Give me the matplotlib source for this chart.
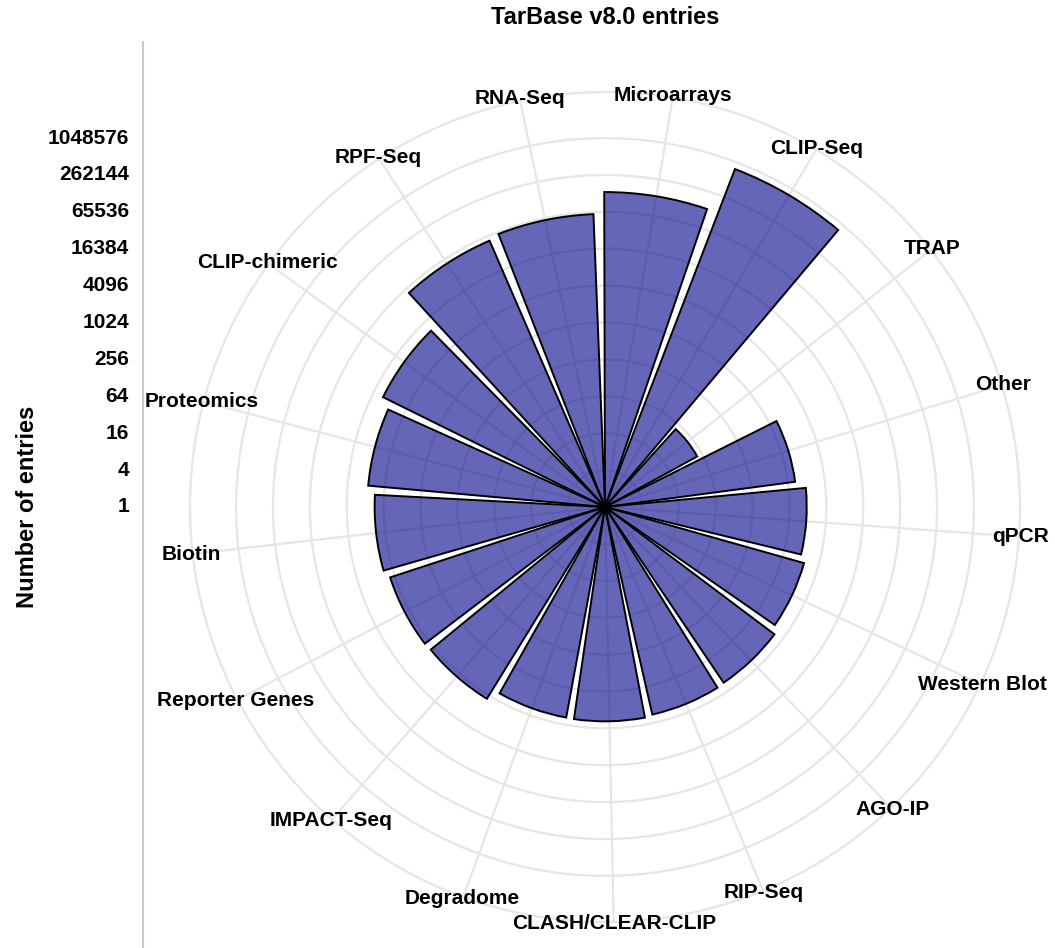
import matplotlib
matplotlib.use("agg")
import matplotlib.pyplot as plt
import numpy as np
from matplotlib.lines import Line2D

plt.rcParams["font.family"] = ["Liberation Sans", "DejaVu Sans"]
plt.rcParams["font.weight"] = "bold"

# Entries per experimental method (TarBase v8.0)
methods = [
    "Microarrays", "CLIP-Seq", "TRAP", "Other", "qPCR", "Western Blot",
    "AGO-IP", "RIP-Seq", "CLASH/CLEAR-CLIP", "Degradome", "IMPACT-Seq",
    "Reporter Genes", "Biotin", "Proteomics", "CLIP-chimeric", "RPF-Seq",
    "RNA-Seq",
]
entries = [
    138000, 812000, 52, 1350, 1960, 2370,
    2880, 2980, 3150, 3120, 4740,
    4900, 5750, 7590, 11030, 54700,
    60700,
]
tick_values = [1, 4, 16, 64, 256, 1024, 4096, 16384, 65536, 262144, 1048576]

W, H = 1055, 948
fig = plt.figure(figsize=(W / 100, H / 100), dpi=100)

# polar panel: log2 radius, 0..20 for the data range, outer ring at 22.5
r_max = 22.5
cx, cy, rad = 605, 507, 415
ax = fig.add_axes([(cx - rad) / W, (H - cy - rad) / H, 2 * rad / W, 2 * rad / H],
                  projection="polar")
ax.set_theta_zero_location("N", offset=1.2)
ax.set_theta_direction(-1)
ax.set_ylim(0, r_max)
ax.set_xticks([])
ax.set_yticks([])
ax.grid(False)
ax.spines["polar"].set_visible(False)
ax.patch.set_alpha(0)

n = len(methods)
slot = 2 * np.pi / n
theta = (np.arange(n) + 0.5) * slot
grid_col = "#E6E6E6"

# grid: circles at the major breaks plus the outer ring, spokes per method
ring = np.linspace(0, 2 * np.pi, 721)
for v in tick_values[1:]:
    ax.plot(ring, np.full_like(ring, np.log2(v)), color=grid_col, lw=1.6, zorder=1)
ax.plot(ring, np.full_like(ring, r_max), color=grid_col, lw=1.6, zorder=1,
        clip_on=False)
for t in theta:
    ax.plot([t, t], [0, r_max], color=grid_col, lw=1.6, zorder=1, clip_on=False)

ax.bar(theta, np.log2(entries), width=0.9 * slot, bottom=0,
       facecolor=(0, 0, 0.545, 0.6), edgecolor="black", linewidth=1.4, zorder=3)

for t, name in zip(theta, methods):
    ax.text(t, r_max + 0.1, name, ha="center", va="center", fontsize=15,
            fontweight="bold", color="black", zorder=5)

# radial axis drawn at the left like a vertical y axis
pos = ax.get_position()
ymid = pos.y0 + pos.height / 2
for v in tick_values:
    y = ymid + np.log2(v) / r_max * pos.height / 2
    fig.text(129 / W, y, str(v), ha="right", va="center", fontsize=15,
             fontweight="bold", color="black")

fig.add_artist(Line2D([143 / W, 143 / W], [0, (H - 42) / H],
                      transform=fig.transFigure, color="#C8C8C8", lw=1.5))

fig.text(28 / W, ymid, "Number of entries", rotation=90, ha="center",
         va="center", fontsize=17, fontweight="bold")
fig.text(605 / W, 1 - 18 / H, "TarBase v8.0 entries", ha="center", va="center",
         fontsize=17, fontweight="bold")

fig.savefig("out.png", dpi=100, facecolor="white")
